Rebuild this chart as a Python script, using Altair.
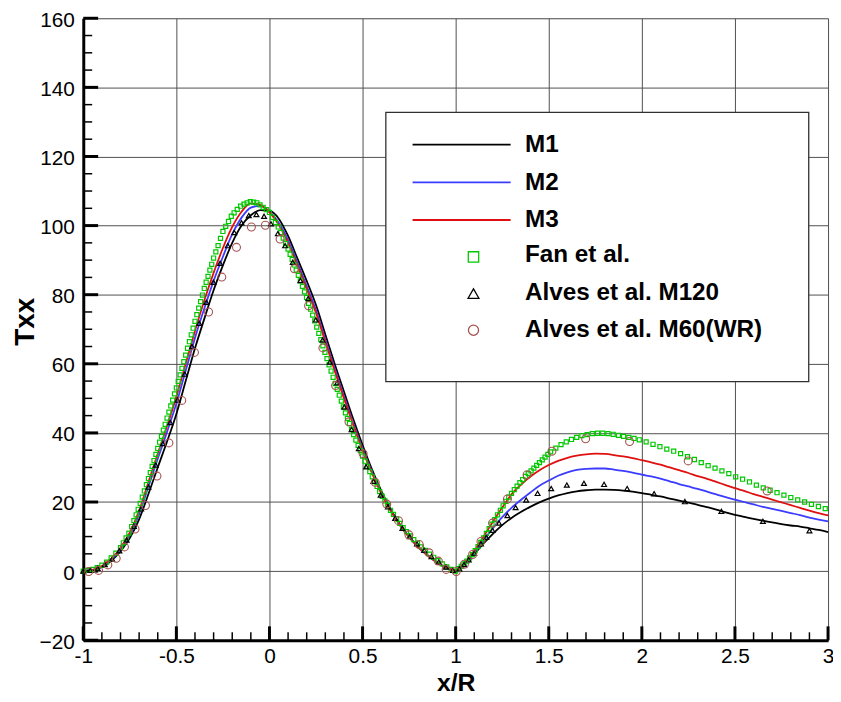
import altair as alt
import pandas as pd

FONT = "Liberation Sans"

# ---------------- data ----------------
line_x = [-1.00, -0.95, -0.90, -0.85, -0.80, -0.75, -0.70, -0.65, -0.60, -0.55,
          -0.50, -0.45, -0.40, -0.35, -0.30, -0.25, -0.20, -0.15, -0.10, -0.05,
          0.00, 0.05, 0.10, 0.15, 0.20, 0.25, 0.30, 0.35, 0.40, 0.45,
          0.50, 0.55, 0.60, 0.65, 0.70, 0.75, 0.80, 0.85, 0.90, 0.95,
          1.00, 1.05, 1.10, 1.15, 1.20, 1.25, 1.30, 1.35, 1.40, 1.45,
          1.50, 1.55, 1.60, 1.65, 1.70, 1.75, 1.80, 1.85, 1.90, 1.95,
          2.00, 2.05, 2.10, 2.15, 2.20, 2.25, 2.30, 2.35, 2.40, 2.45,
          2.50, 2.55, 2.60, 2.65, 2.70, 2.75, 2.80, 2.85, 2.90, 2.95, 3.00]

m1_y = [0.0, 0.3, 1.2, 3.0, 5.8, 9.6, 15.0, 22.3, 30.0, 37.5,
        45.5, 55.0, 64.5, 73.0, 81.3, 88.5, 95.0, 100.0, 103.0, 104.5,
        104.3, 102.0, 97.0, 90.5, 84.0, 77.0, 68.5, 60.0, 52.0, 44.0,
        36.5, 29.5, 23.3, 18.0, 13.6, 10.0, 7.0, 4.6, 2.6, 1.0,
        0.2, 2.3, 5.0, 8.0, 10.8, 13.3, 15.4, 17.1, 18.6, 19.9,
        21.0, 21.9, 22.6, 23.1, 23.4, 23.6, 23.6, 23.5, 23.3, 23.0,
        22.6, 22.1, 21.6, 21.0, 20.4, 19.8, 19.2, 18.5, 17.8, 17.0,
        16.3, 15.7, 15.1, 14.6, 14.1, 13.6, 13.2, 12.9, 12.4, 11.9, 11.3]

m2_y = [0.0, 0.3, 1.3, 3.3, 6.3, 10.5, 16.5, 24.5, 32.5, 40.3,
        48.5, 58.0, 67.5, 76.0, 84.0, 91.0, 97.5, 102.3, 105.2, 105.7,
        104.0, 100.8, 95.8, 89.3, 82.5, 75.5, 67.0, 58.6, 50.6, 42.8,
        35.5, 28.8, 22.8, 17.7, 13.4, 9.9, 6.9, 4.5, 2.5, 1.0,
        0.2, 2.3, 5.4, 8.9, 12.4, 15.6, 18.3, 20.6, 22.7, 24.7,
        26.2, 27.6, 28.6, 29.3, 29.6, 29.7, 29.7, 29.4, 29.0, 28.5,
        27.9, 27.4, 26.8, 26.0, 25.2, 24.5, 23.8, 23.0, 22.2, 21.4,
        20.7, 20.0, 19.3, 18.6, 18.0, 17.4, 16.8, 16.2, 15.5, 14.9, 14.4]

m3_y = [0.0, 0.4, 1.5, 3.6, 6.7, 11.2, 17.5, 25.8, 34.0, 42.0,
        50.5, 60.0, 69.5, 78.3, 86.3, 93.5, 99.6, 104.0, 106.4, 106.0,
        103.8, 100.2, 95.0, 88.5, 81.7, 74.7, 66.3, 58.0, 50.0, 42.3,
        35.0, 28.4, 22.5, 17.5, 13.3, 9.8, 6.9, 4.5, 2.5, 1.0,
        0.2, 2.5, 5.9, 10.0, 14.3, 18.4, 22.2, 25.0, 27.3, 29.2,
        30.7, 31.9, 32.8, 33.4, 33.8, 34.0, 33.9, 33.6, 33.2, 32.7,
        32.1, 31.5, 30.8, 30.0, 29.2, 28.4, 27.5, 26.7, 25.8, 24.9,
        24.0, 23.2, 22.3, 21.5, 20.7, 19.9, 19.1, 18.3, 17.5, 16.8, 16.1]

# Fan et al. (x, Txx)
fan_points = [
    (-1.000, 0.0), (-0.975, 0.2), (-0.950, 0.5), (-0.925, 1.0), (-0.900, 1.7),
    (-0.875, 2.6), (-0.850, 3.8), (-0.825, 5.2), (-0.800, 6.8), (-0.785, 8.2),
    (-0.770, 9.6), (-0.755, 11.0), (-0.740, 12.9), (-0.728, 14.6), (-0.716, 16.3),
    (-0.705, 17.9), (-0.694, 19.6), (-0.683, 21.4), (-0.672, 23.2), (-0.661, 25.0),
    (-0.650, 26.8), (-0.640, 28.5), (-0.630, 30.3), (-0.620, 32.0), (-0.610, 33.8),
    (-0.600, 35.5), (-0.590, 37.3), (-0.580, 39.0), (-0.570, 40.8), (-0.560, 42.5),
    (-0.550, 44.3), (-0.540, 46.0), (-0.530, 47.8), (-0.520, 49.5), (-0.510, 51.3),
    (-0.500, 53.0), (-0.490, 54.9), (-0.480, 56.8), (-0.470, 58.7), (-0.460, 60.6),
    (-0.450, 62.5), (-0.440, 64.5), (-0.430, 66.4), (-0.420, 68.4), (-0.410, 70.3),
    (-0.400, 72.3), (-0.390, 74.2), (-0.380, 76.1), (-0.370, 78.0), (-0.360, 79.9),
    (-0.350, 81.8), (-0.340, 83.6), (-0.330, 85.3), (-0.320, 87.1), (-0.310, 88.8),
    (-0.300, 90.6), (-0.288, 92.4), (-0.276, 94.2), (-0.263, 96.3), (-0.250, 98.3),
    (-0.235, 99.8), (-0.220, 101.2), (-0.205, 102.7), (-0.190, 103.7), (-0.173, 104.7),
    (-0.155, 105.6), (-0.137, 106.2), (-0.120, 106.6), (-0.103, 106.9), (-0.085, 106.8),
    (-0.068, 106.6), (-0.051, 106.0), (-0.034, 105.3), (-0.017, 104.6), (0.000, 103.8),
    (0.016, 102.4), (0.032, 100.9), (0.047, 99.6), (0.061, 98.0), (0.074, 96.4),
    (0.087, 94.8), (0.100, 93.2), (0.111, 91.7), (0.122, 90.2), (0.133, 88.6),
    (0.144, 87.1), (0.155, 85.6), (0.166, 84.0), (0.177, 82.4), (0.188, 80.8),
    (0.199, 79.2), (0.210, 77.5), (0.221, 75.8), (0.232, 74.1), (0.243, 72.4),
    (0.254, 70.6), (0.265, 68.8), (0.276, 67.0), (0.287, 65.2), (0.298, 63.3),
    (0.309, 61.5), (0.320, 59.7), (0.331, 57.9), (0.342, 56.1), (0.353, 54.3),
    (0.364, 52.6), (0.375, 50.9), (0.386, 49.2), (0.397, 47.5), (0.408, 45.8),
    (0.419, 44.2), (0.430, 42.7), (0.441, 41.1), (0.452, 39.5), (0.464, 37.9),
    (0.476, 36.4), (0.488, 34.9), (0.500, 33.3), (0.513, 31.8), (0.526, 30.3),
    (0.539, 28.8), (0.552, 27.3), (0.565, 25.9), (0.578, 24.5), (0.592, 23.0),
    (0.606, 21.6), (0.620, 20.3), (0.635, 19.0), (0.650, 17.6), (0.666, 16.4),
    (0.683, 15.1), (0.700, 13.8), (0.718, 12.6), (0.736, 11.4), (0.755, 10.2),
    (0.775, 9.1), (0.795, 8.1), (0.816, 7.0), (0.838, 6.0), (0.860, 4.9),
    (0.882, 4.0), (0.905, 3.0), (0.928, 2.1), (0.952, 1.2), (0.976, 0.5),
    (1.000, 0.0), (1.015, 0.7), (1.030, 1.4), (1.045, 2.1), (1.060, 2.9),
    (1.075, 3.8), (1.090, 4.8), (1.105, 5.9), (1.120, 7.1), (1.135, 8.3),
    (1.150, 9.6), (1.165, 10.9), (1.180, 12.3), (1.195, 13.6), (1.210, 14.9),
    (1.225, 16.3), (1.240, 17.6), (1.255, 18.9), (1.270, 20.2), (1.285, 21.4),
    (1.300, 22.5), (1.315, 23.6), (1.330, 24.6), (1.345, 25.6), (1.360, 26.5),
    (1.375, 27.4), (1.390, 28.2), (1.405, 29.0), (1.420, 29.8), (1.435, 30.6),
    (1.450, 31.4), (1.465, 32.2), (1.480, 33.0), (1.495, 33.8), (1.510, 34.5),
    (1.538, 35.6), (1.566, 36.6), (1.594, 37.4), (1.622, 38.1), (1.650, 38.7),
    (1.678, 39.2), (1.706, 39.5), (1.734, 39.8), (1.762, 39.9), (1.790, 39.9),
    (1.818, 39.8), (1.846, 39.6), (1.874, 39.3), (1.902, 39.0), (1.930, 38.7),
    (1.958, 38.4), (1.986, 38.0), (2.023, 37.4), (2.060, 36.7), (2.097, 36.0),
    (2.134, 35.3), (2.171, 34.7), (2.208, 34.0), (2.245, 33.1), (2.282, 32.3),
    (2.319, 31.4), (2.356, 30.5), (2.393, 29.8), (2.430, 29.0), (2.467, 28.2),
    (2.504, 27.3), (2.541, 26.6), (2.578, 25.8), (2.615, 24.9), (2.652, 24.1),
    (2.689, 23.4), (2.726, 22.7), (2.763, 22.0), (2.800, 21.3), (2.837, 20.6),
    (2.874, 20.0), (2.911, 19.3), (2.948, 18.7), (2.985, 18.1),
]

# Alves et al. M120 (x, Txx)
m120_points = [
    (-1.000, 0.0), (-0.962, 0.2), (-0.923, 0.8), (-0.884, 1.9), (-0.845, 3.5),
    (-0.806, 5.9), (-0.767, 9.0), (-0.728, 13.0), (-0.689, 18.0), (-0.650, 24.3),
    (-0.611, 30.7), (-0.572, 36.9), (-0.533, 43.0), (-0.494, 49.5), (-0.455, 57.0),
    (-0.416, 65.0), (-0.377, 71.7), (-0.339, 77.8), (-0.301, 83.6), (-0.265, 89.1),
    (-0.224, 94.2), (-0.189, 98.0), (-0.150, 100.8), (-0.111, 102.9), (-0.070, 103.2),
    (-0.029, 102.7), (0.008, 100.5), (0.045, 97.7), (0.084, 94.2), (0.125, 89.4),
    (0.166, 84.1), (0.208, 78.9), (0.249, 72.7), (0.285, 66.9), (0.324, 60.5),
    (0.363, 54.5), (0.402, 47.5), (0.441, 41.0), (0.480, 35.5), (0.519, 30.2),
    (0.558, 26.0), (0.597, 22.0), (0.636, 18.6), (0.675, 15.3), (0.714, 12.4),
    (0.753, 10.0), (0.792, 7.9), (0.831, 6.0), (0.870, 4.2), (0.909, 2.6),
    (0.948, 1.2), (0.985, 0.2), (1.020, 0.7), (1.045, 1.9), (1.070, 3.3),
    (1.100, 5.2), (1.136, 7.9), (1.165, 9.8), (1.198, 11.8), (1.233, 13.9),
    (1.278, 16.1), (1.322, 18.4), (1.379, 20.6), (1.440, 22.5), (1.513, 23.9),
    (1.597, 24.9), (1.689, 25.4), (1.797, 25.1), (1.921, 23.9), (2.066, 22.4),
    (2.231, 20.1), (2.427, 17.3), (2.650, 14.4), (2.900, 11.7),
]

# Alves et al. M60(WR) (x, Txx)
m60_points = [
    (-0.971, -0.1), (-0.918, 0.2), (-0.868, 1.8), (-0.823, 3.7), (-0.779, 7.0),
    (-0.722, 12.2), (-0.666, 19.0), (-0.604, 27.5), (-0.540, 37.1), (-0.471, 49.4),
    (-0.403, 63.3), (-0.327, 75.0), (-0.256, 85.1), (-0.177, 93.7), (-0.097, 99.6),
    (-0.022, 100.1), (0.057, 96.1), (0.134, 87.5), (0.210, 76.8), (0.287, 64.6),
    (0.355, 53.7), (0.427, 43.2), (0.503, 34.0), (0.568, 25.7), (0.630, 19.4),
    (0.693, 14.6), (0.749, 10.5), (0.804, 7.7), (0.857, 5.3), (0.907, 2.9),
    (0.949, 0.5), (1.003, -0.1), (1.047, 2.0), (1.091, 4.8), (1.136, 8.6),
    (1.198, 13.9), (1.278, 20.9), (1.384, 27.9), (1.517, 34.7), (1.698, 38.3),
    (1.934, 37.5), (2.249, 31.9), (2.673, 23.2),
]

line_names = ["M1", "M2", "M3"]
marker_names = ["Fan et al.", "Alves et al. M120", "Alves et al. M60(WR)"]

x_major = [-1, -0.5, 0, 0.5, 1, 1.5, 2, 2.5, 3]
x_minor = [-0.9, -0.8, -0.7, -0.6, -0.4, -0.3, -0.2, -0.1, 0.1, 0.2, 0.3, 0.4,
           0.6, 0.7, 0.8, 0.9, 1.1, 1.2, 1.3, 1.4, 1.6, 1.7, 1.8, 1.9,
           2.1, 2.2, 2.3, 2.4, 2.6, 2.7, 2.8, 2.9]
y_major = [-20, 0, 20, 40, 60, 80, 100, 120, 140, 160]
y_minor = [-15, -10, -5, 5, 10, 15, 25, 30, 35, 45, 50, 55, 65, 70, 75,
           85, 90, 95, 105, 110, 115, 125, 130, 135, 145, 150, 155]

# ---------------- styling ----------------
C_BLACK = "#000000"
C_BLUE = "#3c3cff"
C_RED = "#e01010"
C_GREEN = "#00c800"
C_BROWN = "#a85050"

W, H = 752, 628

xs = alt.Scale(domain=[-1, 3], nice=False, zero=False)
ys = alt.Scale(domain=[-20, 160], nice=False, zero=False)

df_lines = pd.DataFrame({
    "x": line_x * 3,
    "y": m1_y + m2_y + m3_y,
    "s": [line_names[0]] * len(line_x) + [line_names[1]] * len(line_x) + [line_names[2]] * len(line_x),
})
df_fan = pd.DataFrame(fan_points, columns=["x", "y"])
df_m120 = pd.DataFrame(m120_points, columns=["x", "y"])
df_m60 = pd.DataFrame(m60_points, columns=["x", "y"])

grid_color = "#505050"

AX = alt.Axis(values=x_major, labelExpr="datum.value + ''", grid=True,
              gridColor=grid_color, gridWidth=1, ticks=False, labelFlush=False,
              domain=True, domainColor="black", domainWidth=3,
              labelFont=FONT, labelFontSize=21, labelColor="black",
              labelPadding=5, title="x/R", titleFont=FONT, titleFontSize=25,
              titleFontWeight="bold", titleColor="black",
              titleX=376, titleY=51, titleBaseline="alphabetic", titleAlign="center")
AY = alt.Axis(values=y_major, grid=True, gridColor=grid_color, gridWidth=1,
              ticks=False, labelFlush=False, labelOffset=2,
              domain=True, domainColor="black", domainWidth=3,
              labelFont=FONT, labelFontSize=21, labelColor="black",
              labelPadding=9, title="Txx", titleFont=FONT, titleFontSize=28,
              titleFontWeight="bold", titleColor="black",
              titleX=-58, titleY=306, titleBaseline="middle", titleAlign="center",
              titleAngle=270)

def X(field="x"):
    return alt.X(f"{field}:Q", scale=xs, axis=AX, title="x/R")

def Y(field="y"):
    return alt.Y(f"{field}:Q", scale=ys, axis=AY, title="Txx")

lines = alt.Chart(df_lines).mark_line(strokeWidth=1.8, interpolate="monotone").encode(
    x=X(), y=Y(),
    color=alt.Color("s:N", scale=alt.Scale(domain=line_names, range=[C_BLACK, C_BLUE, C_RED]), legend=None),
    detail="s:N",
)

fan = alt.Chart(df_fan).mark_point(shape="square", size=17, filled=False,
                                   color=C_GREEN, strokeWidth=1.2, opacity=1).encode(x=X(), y=Y())
m120 = alt.Chart(df_m120).mark_point(shape="triangle-up", size=24, filled=False,
                                     color=C_BLACK, strokeWidth=1.2, opacity=1).encode(x=X(), y=Y())
m60 = alt.Chart(df_m60).mark_point(shape="circle", size=64, filled=False,
                                   color=C_BROWN, strokeWidth=1.1, opacity=1).encode(x=X(), y=Y())

# inward ticks
def xticks(vals, length, width):
    return alt.Chart(pd.DataFrame({"x": vals})).mark_rule(color="black", strokeWidth=width).encode(
        x=X(), y=alt.value(H), y2=alt.value(H - length))

def yticks(vals, length, width):
    return alt.Chart(pd.DataFrame({"y": vals})).mark_rule(color="black", strokeWidth=width).encode(
        y=Y(), x=alt.value(0), x2=alt.value(length))

ticks = [xticks(x_major, 14, 3), xticks(x_minor, 8, 1.5),
         yticks(y_major, 15, 3), yticks(y_minor, 9, 1.5)]

# legend box (drawn inside the plot area)
one = pd.DataFrame({"a": [0]})
legend_box = alt.Chart(one).mark_rect(fill="white", stroke="#303030", strokeWidth=1.3).encode(
    x=alt.value(305.5), x2=alt.value(732.5), y=alt.value(95), y2=alt.value(367))

legend_layers = [legend_box]
line_rows = [127.7, 165.7, 203.7]
for name, col, yy in zip(line_names, [C_BLACK, C_BLUE, C_RED], line_rows):
    legend_layers.append(
        alt.Chart(one).mark_rule(color=col, strokeWidth=1.8).encode(
            x=alt.value(332.5), x2=alt.value(431.5), y=alt.value(yy)))
marker_specs = [("square", C_GREEN, 110, 241), ("triangle-up", C_BLACK, 120, 278), ("circle", C_BROWN, 105, 315)]
for shp, col, sz, yy in marker_specs:
    legend_layers.append(
        alt.Chart(one).mark_point(shape=shp, size=sz, filled=False, color=col, strokeWidth=1.3, opacity=1).encode(
            x=alt.value(394), y=alt.value(yy)))
text_rows = [127.7, 166, 204, 239.5, 277, 315]
for name, yy in zip(line_names + marker_names, text_rows):
    legend_layers.append(
        alt.Chart(pd.DataFrame({"label": [name]})).mark_text(
            align="left", baseline="middle", font=FONT, fontSize=24.5, fontWeight="bold", color="black"
        ).encode(x=alt.value(446), y=alt.value(yy), text="label:N"))

chart = alt.layer(
    lines, *ticks, legend_layers[0], fan, m120, m60, *legend_layers[1:]
).properties(
    width=W, height=H,
    autosize=alt.AutoSizeParams(type="none"),
    padding={"left": 76, "top": 7, "right": 5, "bottom": 57},
).configure_view(stroke=None).configure(background="white")

chart.save("out.html", embed_options={"renderer": "svg", "actions": False})
